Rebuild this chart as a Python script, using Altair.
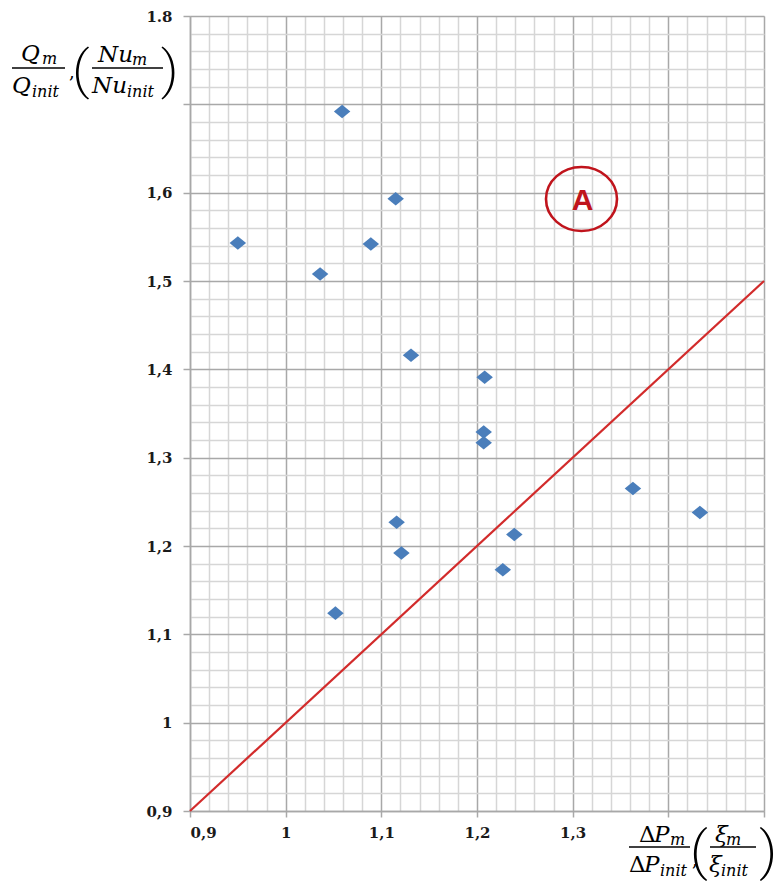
import altair as alt
import pandas as pd

# ---- data ----
x_vals = [0.950, 1.036, 1.059, 1.089, 1.115, 1.131, 1.208, 1.207, 1.207,
          1.116, 1.121, 1.239, 1.227, 1.052, 1.363, 1.433]
y_vals = [1.543, 1.508, 1.692, 1.542, 1.593, 1.416, 1.391, 1.329, 1.317,
          1.227, 1.192, 1.213, 1.173, 1.124, 1.265, 1.238]
line_x = [0.9, 1.5]
line_y = [0.9, 1.5]

x_major = [0.9, 1.0, 1.1, 1.2, 1.3, 1.4, 1.5]
y_major = [0.9, 1.0, 1.1, 1.2, 1.3, 1.4, 1.5, 1.6, 1.7, 1.8]
x_minor = [round(0.9 + 0.02 * i, 2) for i in range(31) if i % 5 != 0]
y_minor = [round(0.9 + 0.02 * i, 2) for i in range(46) if i % 5 != 0]

pts = pd.DataFrame({"x": x_vals, "y": y_vals})
ln = pd.DataFrame({"x": line_x, "y": line_y})
one = pd.DataFrame({"k": [0]})

W, H = 574, 795
SERIF = "DejaVu Serif"
GRID_MAJOR = "#a8a8a8"
GRID_MINOR = "#d6d6d6"

xs = alt.Scale(domain=[0.9, 1.5], nice=False, zero=False)
ys = alt.Scale(domain=[0.9, 1.8], nice=False, zero=False)

x_axis = alt.Axis(values=x_major, format=".1~f", title=None,
                  labelExpr="datum.value > 1.39 ? '' : replace(datum.label, '.', ',')",
                  grid=True, gridColor=GRID_MAJOR, gridWidth=1.5,
                  domainColor=GRID_MAJOR, domainWidth=1.5,
                  tickColor=GRID_MAJOR, tickSize=6, tickWidth=1.5,
                  labelFont=SERIF, labelFontWeight="bold", labelFontSize=15,
                  labelColor="#1a1a1a", labelPadding=8)
y_axis = alt.Axis(values=y_major, format=".1~f", title=None,
                  labelExpr="datum.value > 1.79 ? '1.8' : (abs(datum.value - 1.7) < 0.001 ? '' : replace(datum.label, '.', ','))",
                  grid=True, gridColor=GRID_MAJOR, gridWidth=1.5,
                  domainColor=GRID_MAJOR, domainWidth=1.5,
                  tickColor=GRID_MAJOR, tickSize=7, tickWidth=1.5,
                  labelFont=SERIF, labelFontWeight="bold", labelFontSize=15,
                  labelColor="#1a1a1a", labelPadding=11)
x_axis_minor = alt.Axis(values=x_minor, orient="top", title=None, labels=False,
                        ticks=False, domain=False, grid=True,
                        gridColor=GRID_MINOR, gridWidth=1.5)
y_axis_minor = alt.Axis(values=y_minor, orient="right", title=None, labels=False,
                        ticks=False, domain=False, grid=True,
                        gridColor=GRID_MINOR, gridWidth=1.5)

minor = alt.Chart(ln).mark_line(opacity=0).encode(
    x=alt.X("x:Q", scale=xs, axis=x_axis_minor),
    y=alt.Y("y:Q", scale=ys, axis=y_axis_minor),
)

line = alt.Chart(ln).mark_line(color="#d22b2b", strokeWidth=2.2).encode(
    x=alt.X("x:Q", scale=xs, axis=x_axis),
    y=alt.Y("y:Q", scale=ys, axis=y_axis),
)

diamond = "M -1 0 L 0 -0.82 L 1 0 L 0 0.82 Z"
points = alt.Chart(pts).mark_point(shape=diamond, size=272, filled=True,
                                   color="#4a7ebb", opacity=1).encode(
    x=alt.X("x:Q", scale=xs, axis=None),
    y=alt.Y("y:Q", scale=ys, axis=None),
)

# ---- annotation "A" in an ellipse ----
ellipse = "M -1 0 A 1 0.9 0 1 1 1 0 A 1 0.9 0 1 1 -1 0 Z"
ell = alt.Chart(one).mark_point(shape=ellipse, size=5041, filled=False,
                                color="#c0141c", strokeWidth=2.6, opacity=1).encode(
    x=alt.value(391.5), y=alt.value(183))
a_txt = alt.Chart(one).mark_text(text="A", font="Liberation Sans", fontWeight="bold",
                                 fontSize=30, color="#c0141c", align="center",
                                 baseline="alphabetic").encode(
    x=alt.value(392.5), y=alt.value(194))


def txt(s, x, y, size, style="italic", align="left"):
    return alt.Chart(one).mark_text(text=s, font=SERIF, fontStyle=style,
                                    fontSize=size, color="black", align=align,
                                    baseline="alphabetic").encode(
        x=alt.value(x), y=alt.value(y))


def bar(x1, x2, y):
    return alt.Chart(one).mark_rule(color="black", strokeWidth=1.3).encode(
        x=alt.value(x1), x2=alt.value(x2), y=alt.value(y))


LP = "M 0.3 -1 C -0.3 -0.6 -0.3 0.6 0.3 1 L 0.34 0.96 C -0.18 0.55 -0.18 -0.55 0.34 -0.96 Z"
RP = "M -0.3 -1 C 0.3 -0.6 0.3 0.6 -0.3 1 L -0.34 0.96 C 0.18 0.55 0.18 -0.55 -0.34 -0.96 Z"


def paren(path, x, y, h):
    return alt.Chart(one).mark_point(shape=path, size=h * h, filled=True,
                                     color="black", opacity=1, strokeWidth=0).encode(
        x=alt.value(x), y=alt.value(y))


BIG, SUB = 23, 16
y_title = [
    txt("Q", -169, 45, BIG), txt("m", -148, 48, SUB),
    bar(-178, -125, 52),
    txt("Q", -178, 77, BIG), txt("init", -158, 81, SUB),
    txt(",", -121, 62, 18, style="normal"),
    paren(LP, -110, 57, 53),
    txt("Nu", -92, 46, BIG), txt("m", -58, 49, SUB),
    bar(-98, -27, 52),
    txt("Nu", -98, 77, BIG), txt("init", -63, 81, SUB),
    paren(RP, -19.5, 57, 53),
]
x_title = [
    txt("Δ", 449, 826, BIG, style="normal"), txt("P", 464, 826, BIG), txt("m", 480, 829, SUB),
    bar(439, 500, 831),
    txt("Δ", 439, 856, BIG, style="normal"), txt("P", 454, 856, BIG), txt("init", 470, 860, SUB),
    txt(",", 502, 850, 18, style="normal"),
    paren(LP, 508, 838, 54),
    txt("ξ", 525, 826, BIG), txt("m", 536, 829, SUB),
    bar(520, 566, 831),
    txt("ξ", 519, 856, BIG), txt("init", 531, 860, SUB),
    paren(RP, 579, 838, 54),
]

chart = alt.layer(minor, line, points, ell, a_txt, *y_title, *x_title).resolve_axis(
    x="independent", y="independent"
).properties(
    width=W, height=H,
    autosize=alt.AutoSizeParams(type="none"),
    padding={"left": 182, "top": 8, "right": 10, "bottom": 72},
).configure_view(stroke=None).configure(background="white")

chart.save("out.html", embed_options={"renderer": "svg", "actions": False})
